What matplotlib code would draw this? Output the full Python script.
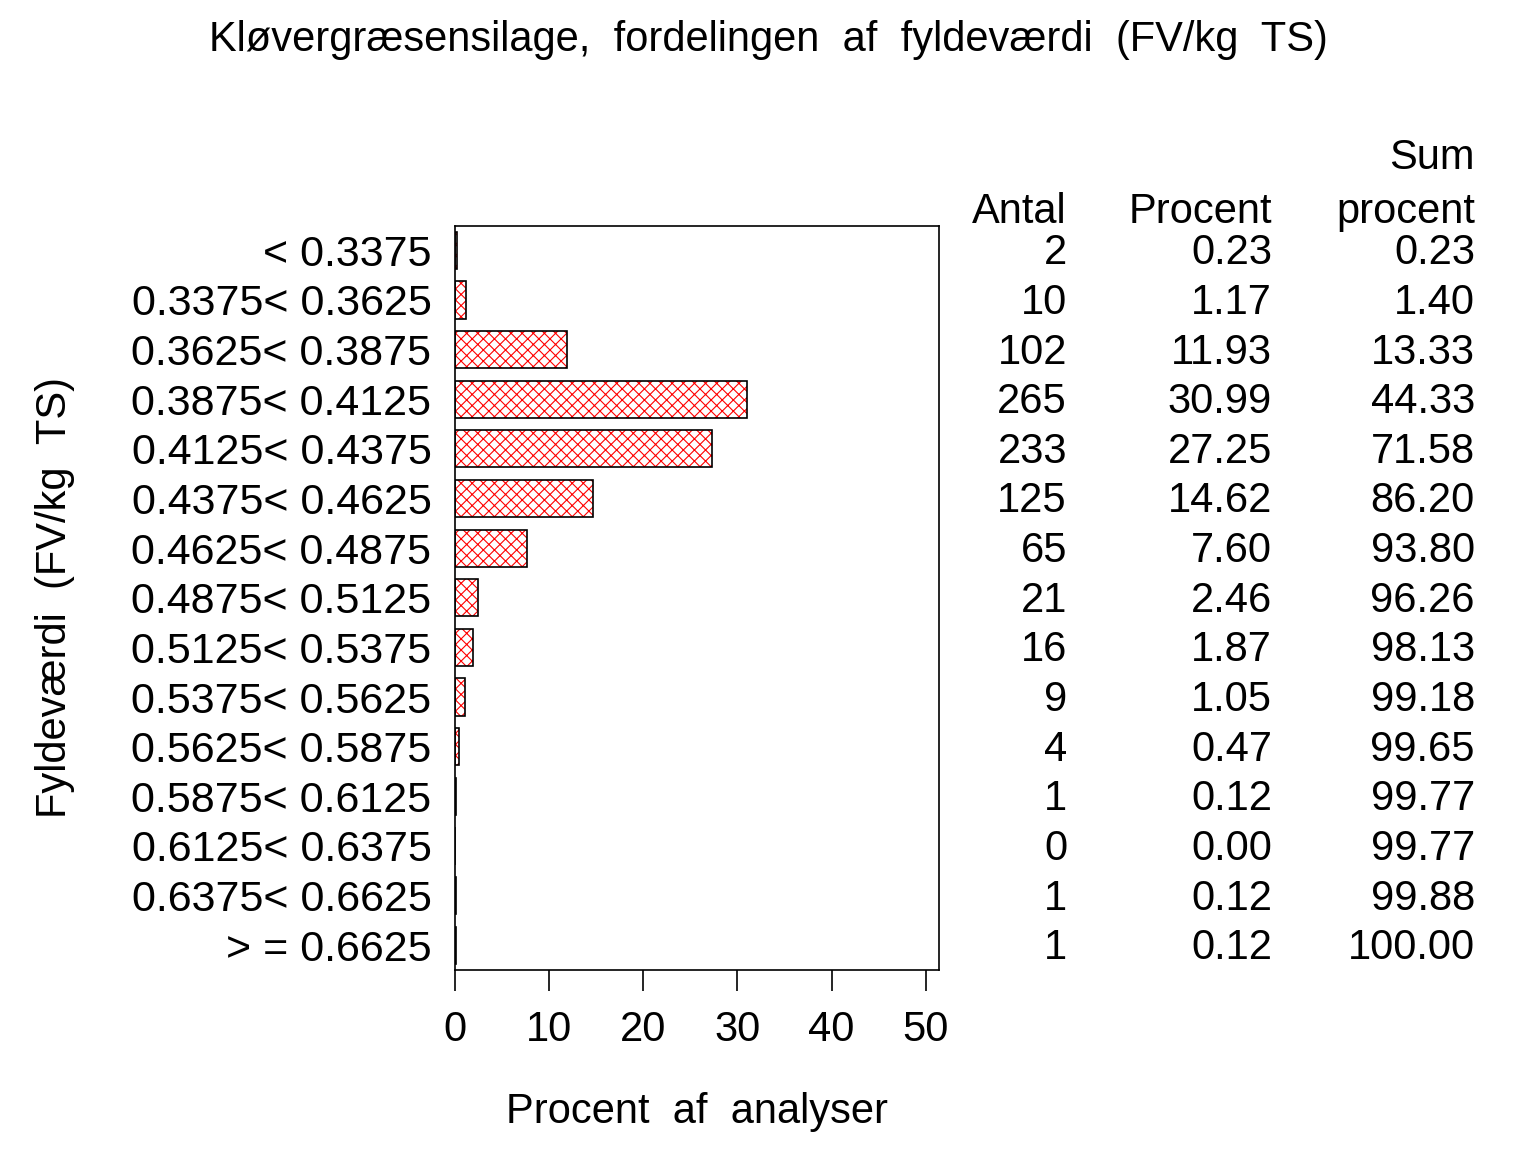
import matplotlib
matplotlib.use("Agg")
import matplotlib.pyplot as plt
import numpy as np

plt.rcParams['font.family'] = ['Liberation Sans', 'DejaVu Sans']
plt.rcParams['hatch.linewidth'] = 0.8

# klasser (FV/kg TS)
classes = ['< 0.3375', '0.3375< 0.3625', '0.3625< 0.3875', '0.3875< 0.4125',
           '0.4125< 0.4375', '0.4375< 0.4625', '0.4625< 0.4875', '0.4875< 0.5125',
           '0.5125< 0.5375', '0.5375< 0.5625', '0.5625< 0.5875', '0.5875< 0.6125',
           '0.6125< 0.6375', '0.6375< 0.6625', '> = 0.6625']
antal = [2, 10, 102, 265, 233, 125, 65, 21, 16, 9, 4, 1, 0, 1, 1]
procent = [0.23, 1.17, 11.93, 30.99, 27.25, 14.62, 7.60, 2.46, 1.87, 1.05,
           0.47, 0.12, 0.00, 0.12, 0.12]
sum_procent = [0.23, 1.40, 13.33, 44.33, 71.58, 86.20, 93.80, 96.26, 98.13,
               99.18, 99.65, 99.77, 99.77, 99.88, 100.00]
xticks = [0, 10, 20, 30, 40, 50]

fig = plt.figure(figsize=(15.36, 11.52), dpi=100)
W, H = 1536, 1152
ax = fig.add_axes([455 / W, 1 - 970 / H, (939 - 455) / W, (970 - 226) / H])

y = np.arange(len(classes))
# red crosshatch, black outline
ax.barh(y, procent, height=0.75, color='white', edgecolor='red', hatch='xxx', linewidth=0)
ax.barh(y, procent, height=0.75, fill=False, edgecolor='black', linewidth=1.2)

ax.set_ylim(len(classes) - 0.5, -0.49)
ax.set_xlim(0, 51.4)
ax.set_yticks(y)
ax.set_yticklabels(classes, fontsize=31)
ax.tick_params(axis='y', length=0, pad=17)
ax.set_xticks(xticks)
ax.set_xticklabels([str(t) for t in xticks], fontsize=30)
ax.tick_params(axis='x', length=15, width=1.2, pad=14, direction='out')
for s in ax.spines.values():
    s.set_linewidth(1.2)

fig.text(697 / W, 1 - 1112 / H, 'Procent  af  analyser', fontsize=30,
         ha='center', va='center')
fig.text(55 / W, 1 - 597 / H, 'Fyldeværdi  (FV/kg  TS)', fontsize=30,
         ha='center', va='center', rotation=90)

# tabel til hoejre
cols = [(1067, antal, '{:d}'), (1272, procent, '{:.2f}'), (1475, sum_procent, '{:.2f}')]
for i in y:
    yc = ax.transData.transform((0, i))[1]
    for xr, vals, fmt in cols:
        fig.text(xr / W, (yc - 3) / 100 / 11.52, fmt.format(vals[i]), fontsize=30,
                 ha='right', va='center')

fig.text(1067 / W, 1 - 212 / H, 'Antal', fontsize=30, ha='right', va='center')
fig.text(1272 / W, 1 - 212 / H, 'Procent', fontsize=30, ha='right', va='center')
fig.text(1475 / W, 1 - 212 / H, 'procent', fontsize=30, ha='right', va='center')
fig.text(1475 / W, 1 - 158 / H, 'Sum', fontsize=30, ha='right', va='center')

fig.text(768 / W, 1 - 40 / H, 'Kløvergræsensilage,  fordelingen  af  fyldeværdi  (FV/kg  TS)',
         fontsize=30, ha='center', va='center')

fig.savefig('out.png', dpi=100)
